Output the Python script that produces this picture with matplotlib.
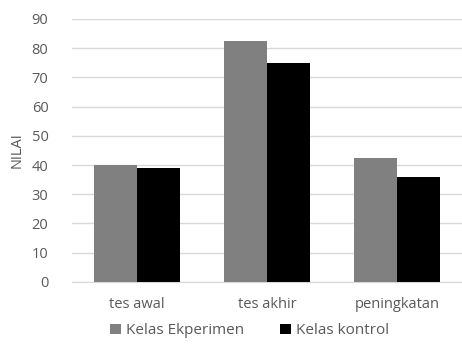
import matplotlib.pyplot as plt
import numpy as np

# ── Data ──────────────────────────────────────────────────────────────────────
categories = ["tes awal", "tes akhir", "peningkatan"]
eksperimen = [40, 82.5, 42.5]
kontrol    = [39, 75, 36]

plt.rcParams["font.family"] = ["Open Sans", "DejaVu Sans"]

fig = plt.figure(figsize=(4.62, 3.45), dpi=100)
ax = fig.add_axes([0.156, 0.183, 0.844, 0.762])

x = np.arange(len(categories))
w = 0.333
ax.bar(x - w / 2, eksperimen, width=w, color="#808080", label="Kelas Ekperimen", zorder=3)
ax.bar(x + w / 2, kontrol,    width=w, color="#000000", label="Kelas kontrol",   zorder=3)

ax.set_xlim(-0.5, 2.5)
ax.set_ylim(0, 90)
ax.set_yticks(range(0, 91, 10))
ax.set_xticks(x)
ax.set_xticklabels(categories)
ax.yaxis.grid(True, color="#d9d9d9", linewidth=1, zorder=0)
ax.tick_params(axis="both", length=0, colors="#595959", labelsize=10.5)
ax.tick_params(axis="y", pad=17)
ax.tick_params(axis="x", pad=11)
for s in ["top", "right", "left"]:
    ax.spines[s].set_visible(False)
ax.spines["bottom"].set_color("#d9d9d9")
ax.set_ylabel("NILAI", color="#595959", fontsize=10.5, labelpad=5)

ax.legend(loc="upper center", bbox_to_anchor=(0.455, -0.105), ncol=2, frameon=False,
          fontsize=11, labelcolor="#595959", handlelength=0.7, handleheight=0.7,
          handletextpad=0.3, columnspacing=2.4)

plt.savefig("out.png", dpi=100)
